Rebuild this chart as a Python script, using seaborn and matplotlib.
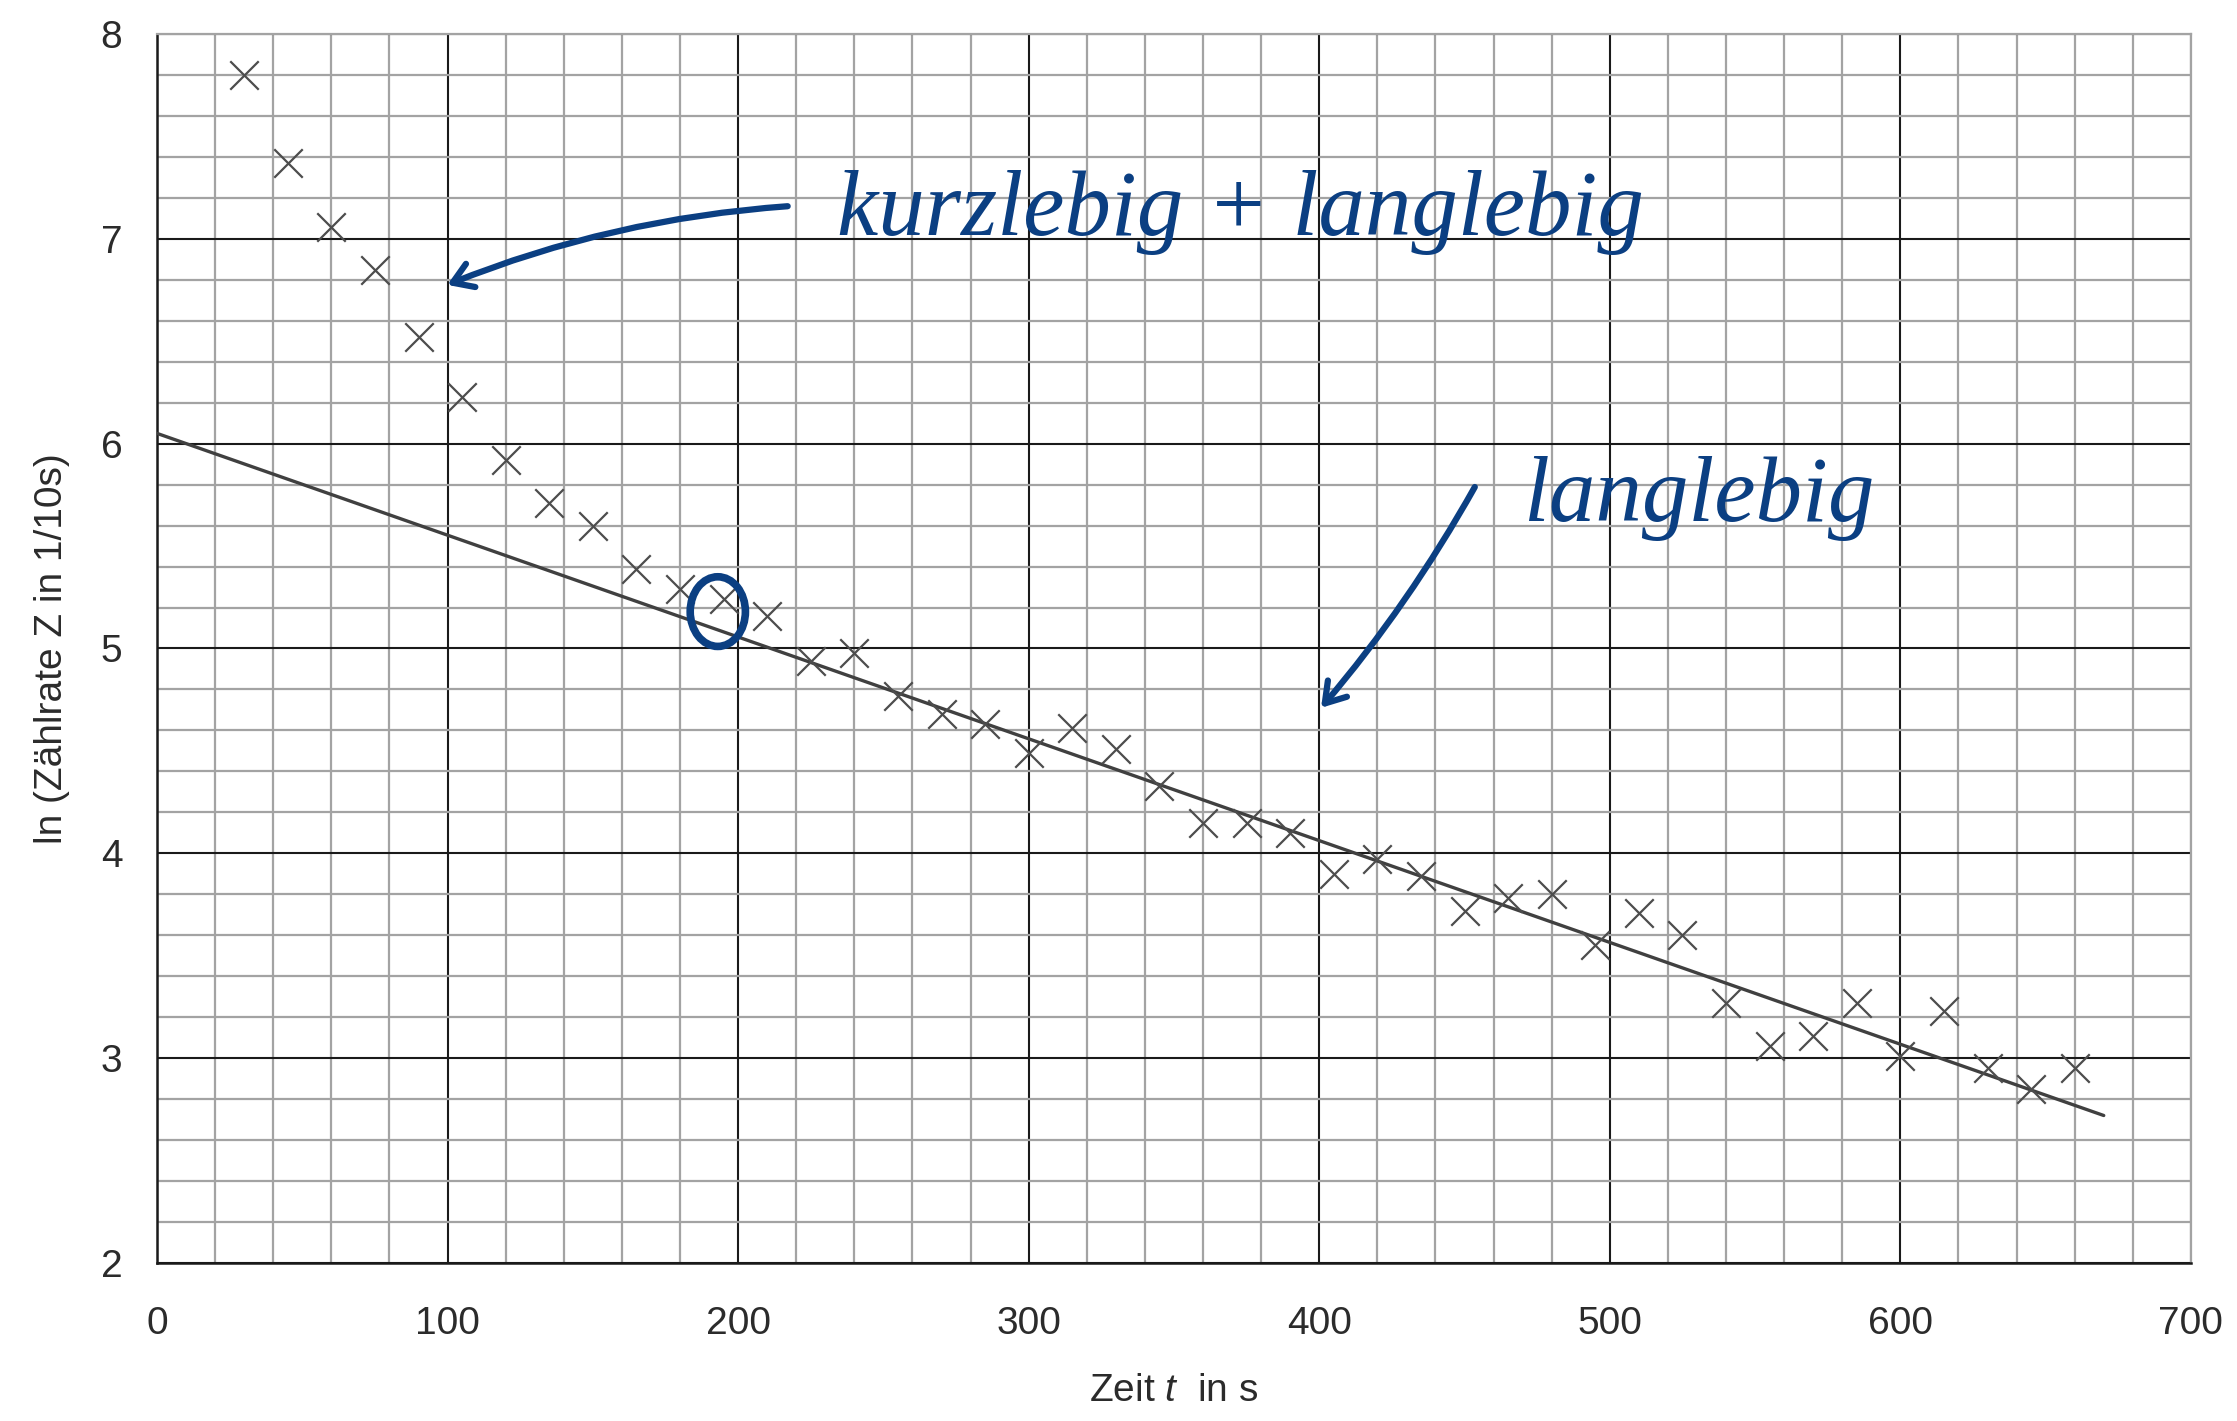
import numpy as np
import pandas as pd
import matplotlib
matplotlib.use("Agg")
import matplotlib.pyplot as plt
from matplotlib.patches import Ellipse
import seaborn as sns

# -------------------------
# Data
# -------------------------
zeit = [30, 45, 60, 75, 90, 105, 120, 135, 150, 165, 180, 195, 210, 225, 240,
        255, 270, 285, 300, 315, 330, 345, 360, 375, 390, 405, 420, 435, 450,
        465, 480, 495, 510, 525, 540, 555, 570, 585, 600, 615, 630, 645, 660]
ln_rate = [7.80, 7.37, 7.06, 6.85, 6.52, 6.23, 5.92, 5.71, 5.60, 5.39, 5.29,
           5.24, 5.16, 4.94, 4.98, 4.77, 4.68, 4.63, 4.49, 4.61, 4.51, 4.33,
           4.15, 4.15, 4.10, 3.90, 3.97, 3.89, 3.72, 3.78, 3.80, 3.55, 3.71,
           3.60, 3.27, 3.06, 3.11, 3.27, 3.01, 3.23, 2.95, 2.85, 2.95]

fit_t = [0, 670]
fit_v = [6.05, 2.72]

x_ticks = [0, 100, 200, 300, 400, 500, 600, 700]
y_ticks = [2, 3, 4, 5, 6, 7, 8]

label_both = "kurzlebig + langlebig"
label_long = "langlebig"

df = pd.DataFrame({"t": zeit, "v": ln_rate})
fit_df = pd.DataFrame({"t": fit_t, "v": fit_v})

# -------------------------
# Style
# -------------------------
sns.set_style("white")
plt.rcParams["font.family"] = ["Liberation Sans", "DejaVu Sans"]
plt.rcParams["mathtext.fontset"] = "custom"
plt.rcParams["mathtext.it"] = "Liberation Sans:italic"
plt.rcParams["mathtext.rm"] = "Liberation Sans"

ink = "#0b3f82"

fig = plt.figure(figsize=(22.37, 14.21), dpi=100)
ax = fig.add_axes([0.0702, 0.1112, 0.9092, 0.8649])

# grid
ax.set_xlim(0, 700)
ax.set_ylim(2, 8)
ax.set_xticks(x_ticks)
ax.set_yticks(y_ticks)
ax.set_xticks(np.arange(0, 701, 20), minor=True)
ax.set_yticks(np.arange(2, 8.01, 0.2), minor=True)
ax.grid(which="minor", color="#a3a3a3", lw=1.6, zorder=0)
ax.grid(which="major", color="#1a1a1a", lw=1.5, zorder=1)
ax.set_axisbelow(True)

# data
sns.lineplot(data=fit_df, x="t", y="v", ax=ax, color="#404040", lw=2.4, zorder=3)
sns.scatterplot(data=df, x="t", y="v", ax=ax, marker="x", s=420,
                color="#4d4d4d", linewidth=1.6, zorder=4)

# axes look
for side in ["left", "bottom"]:
    ax.spines[side].set_color("#1a1a1a")
    ax.spines[side].set_linewidth(1.8)
for side in ["top", "right"]:
    ax.spines[side].set_color("#a3a3a3")
    ax.spines[side].set_linewidth(1.6)

ax.tick_params(axis="both", which="major", direction="out", length=11,
               width=1.4, color="#1a1a1a", labelsize=28, labelcolor="#2b2b2b")
ax.tick_params(axis="x", which="major", pad=20)
ax.tick_params(axis="y", which="major", pad=14)
ax.tick_params(which="minor", length=0)

ax.set_xlabel("Zeit $t$  in s", fontsize=28, color="#2b2b2b", labelpad=22)
ax.set_ylabel("ln (Zählrate Z in 1/10s)", fontsize=28, color="#2b2b2b", labelpad=22)

# -------------------------
# Handwritten notes
# -------------------------
hand = dict(color=ink, fontsize=67, fontstyle="italic", family="Liberation Serif",
            zorder=6)
ax.text(234, 7.02, label_both, ha="left", va="baseline", **hand)
ax.text(470, 5.62, label_long, ha="left", va="baseline", **hand)

ax.annotate("", xy=(99, 6.77), xytext=(218, 7.16),
            arrowprops=dict(arrowstyle="->,head_length=1.4,head_width=0.9",
                            color=ink, lw=4.5,
                            connectionstyle="arc3,rad=0.08"), zorder=6)
ax.annotate("", xy=(400, 4.70), xytext=(454, 5.80),
            arrowprops=dict(arrowstyle="->,head_length=1.4,head_width=0.9",
                            color=ink, lw=4.5,
                            connectionstyle="arc3,rad=-0.05"), zorder=6)

ax.add_patch(Ellipse((193, 5.18), width=19, height=0.34, fill=False,
                     edgecolor=ink, lw=5.5, zorder=6))

fig.savefig("out.png", dpi=100)
